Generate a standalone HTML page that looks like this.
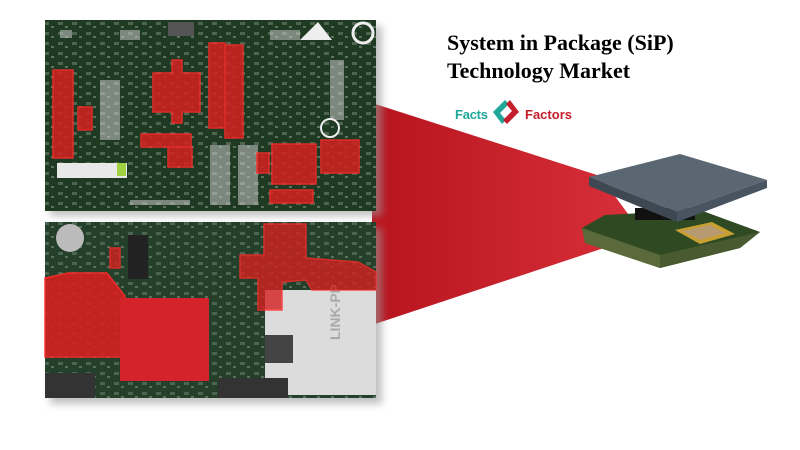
<!DOCTYPE html>
<html><head><meta charset="utf-8"><style>
html,body{margin:0;padding:0;background:#fff;}
svg{display:block}
</style></head><body>
<svg width="800" height="450" viewBox="0 0 800 450" xmlns="http://www.w3.org/2000/svg">
<defs>
<linearGradient id="rg" x1="0" x2="1" y1="0" y2="0">
<stop offset="0" stop-color="#b8141e"/><stop offset="1" stop-color="#d8303a"/>
</linearGradient>
<filter id="sh" x="-10%" y="-10%" width="130%" height="130%"><feGaussianBlur stdDeviation="4"/></filter>
<pattern id="comp" width="14" height="10" patternUnits="userSpaceOnUse">
<rect x="2" y="2" width="5" height="3" fill="#8a9a88"/><rect x="9" y="6" width="3" height="2" fill="#aab5a8"/>
</pattern>
</defs>
<rect width="800" height="450" fill="#fff"/>
<polygon points="372,103 600,176 640,230 610,246 372,325" fill="url(#rg)"/>
<rect x="50" y="26" width="332" height="190" fill="#999" filter="url(#sh)" opacity="0.6"/>
<rect x="50" y="228" width="332" height="176" fill="#999" filter="url(#sh)" opacity="0.6"/>
<rect x="45" y="20" width="331" height="191" fill="#1f3a22"/>
<rect x="45" y="20" width="331" height="191" fill="url(#comp)" opacity="0.45"/>
<g fill="#c9c9c9" opacity="0.55">
<rect x="210" y="145" width="20" height="60"/><rect x="238" y="145" width="20" height="60"/>
<rect x="60" y="30" width="12" height="8"/><rect x="120" y="30" width="20" height="10"/>
<rect x="270" y="30" width="30" height="10"/><rect x="330" y="60" width="14" height="60"/><rect x="100" y="80" width="20" height="60"/>
<rect x="130" y="200" width="60" height="5"/>
</g>
<rect x="57" y="163" width="70" height="15" fill="#e8e8e8"/>
<rect x="117" y="163" width="9" height="13" fill="#9fd140"/>
<rect x="168" y="22" width="26" height="14" fill="#555"/>
<path d="M300 40 L318 22 L332 40 Z" fill="#eee"/>
<circle cx="363" cy="33" r="10" fill="none" stroke="#eee" stroke-width="3"/>
<circle cx="330" cy="128" r="9" fill="none" stroke="#eee" stroke-width="2"/>
<g fill="#d42020" opacity="0.85" stroke="#ff2a2a" stroke-width="1.5">
<rect x="53" y="70" width="20" height="88"/><rect x="78" y="107" width="14" height="23"/>
<polygon points="153,73 172,73 172,60 182,60 182,73 200,73 200,112 182,112 182,123 172,123 172,112 153,112"/>
<rect x="209" y="43" width="16" height="85"/><rect x="225" y="45" width="18" height="93"/>
<rect x="141" y="134" width="50" height="13"/><rect x="168" y="147" width="24" height="20"/>
<rect x="257" y="153" width="12" height="20"/><rect x="272" y="144" width="44" height="40"/>
<rect x="321" y="140" width="38" height="33"/><rect x="270" y="190" width="43" height="13"/>
</g>
<rect x="45" y="222" width="331" height="176" fill="#24402a"/>
<rect x="45" y="222" width="331" height="176" fill="url(#comp)" opacity="0.4"/>
<rect x="265" y="290" width="111" height="105" fill="#dcdcdc"/>
<text x="340" y="340" font-family="Liberation Sans" font-size="14" font-weight="bold" fill="#aaa" transform="rotate(-90 340 340)">LINK-PP</text>
<circle cx="70" cy="238" r="14" fill="#bbb"/>
<rect x="128" y="235" width="20" height="44" fill="#222"/>
<rect x="265" y="335" width="28" height="28" fill="#444"/>
<rect x="218" y="378" width="70" height="20" fill="#333"/>
<rect x="45" y="373" width="50" height="25" fill="#333"/>
<g fill="#d42020" opacity="0.9" stroke="#ff2a2a" stroke-width="1.5">
<polygon points="45,278 68,273 107,273 125,296 125,357 45,357"/>
</g>
<rect x="120" y="298" width="89" height="83" fill="#d5232c"/>
<g fill="#d42020" opacity="0.8" stroke="#ff2a2a" stroke-width="1.5">
<polygon points="264,224 306,224 306,258 358,262 376,272 376,290 312,290 306,280 282,282 282,310 258,310 258,278 240,278 240,255 264,255"/>
<rect x="110" y="248" width="10" height="20"/>
</g>
<polygon points="582,228 605,215 700,210 760,232 740,248 660,268 585,243" fill="#2f4a22"/>
<polygon points="582,228 660,255 660,268 585,243" fill="#5a6a3a"/>
<polygon points="660,255 760,232 740,248 660,268" fill="#4a5a30"/>
<polygon points="675,230 712,222 735,234 700,244" fill="#c8a032"/>
<polygon points="682,231 710,225 725,233 700,240" fill="#b89a70"/>
<rect x="635" y="208" width="60" height="12" fill="#111"/>
<polygon points="589,177 680,154 767,180 677,212" fill="#5a6672"/>
<polygon points="589,177 677,212 677,222 589,186" fill="#3e4852"/>
<polygon points="677,212 767,180 767,188 677,222" fill="#485460"/>
<text x="447" y="50" font-family="Liberation Serif" font-weight="bold" font-size="22" fill="#000">System in Package (SiP)</text>
<text x="447" y="78" font-family="Liberation Serif" font-weight="bold" font-size="22" fill="#000">Technology Market</text>
<text x="455" y="119" font-family="Liberation Sans" font-weight="bold" font-size="13" fill="#1fa89a" textLength="33">Facts</text>
<polygon points="493,112 505,100 509,104 500,113 506,120 502,124" fill="#1fa89a"/>
<polygon points="519,112 507,124 503,120 512,111 506,104 510,100" fill="#c41e2a"/>
<text x="525" y="119" font-family="Liberation Sans" font-weight="bold" font-size="13" fill="#c41e2a" textLength="47">Factors</text>
</svg>
</body></html>
